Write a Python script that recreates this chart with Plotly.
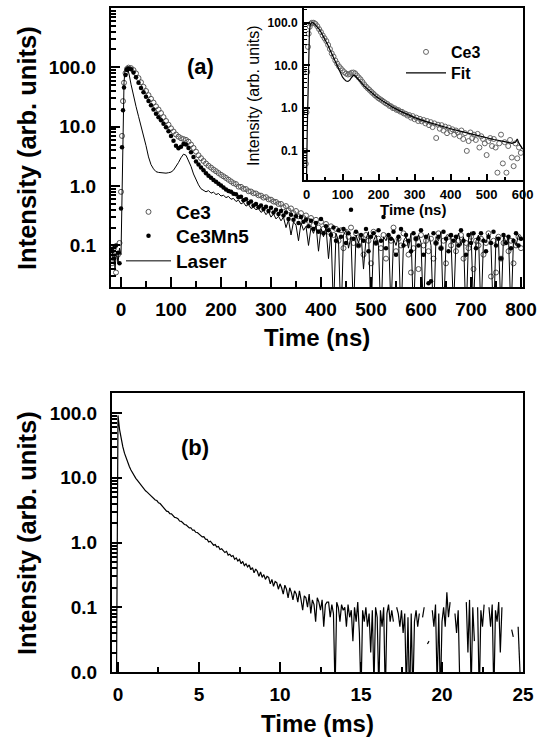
import plotly.graph_objects as go

# ---------------- Panel (a): time-resolved intensity (ns) ----------------
t_grid_a = list(range(20, 805, 5))          # regular 5 ns sampling after the rise

t_ce3_early = [-18, -14, -10, -6, -3, 0, 2, 4, 6, 9, 12, 15]
ce3_early = [0.05, 0.09, 0.035, 0.07, 0.11, 0.8, 7, 27, 55, 80, 94, 99]
ce3_main = [
    97, 90, 79, 66, 56, 47, 40, 34, 29.5, 25.5,
    22, 19.5, 17, 14.5, 12.5, 10.8, 9.4, 8.3, 7.4, 6.8,
    6.4, 6.2, 6.0, 5.6, 5.0, 4.4, 3.8, 3.3, 2.95, 2.65,
    2.4, 2.2, 2.05, 1.9, 1.78, 1.66, 1.55, 1.46, 1.37, 1.28,
    1.2, 1.12, 1.08, 0.98, 0.97, 0.9, 0.89, 0.82, 0.81, 0.76,
    0.75, 0.7, 0.69, 0.64, 0.65, 0.6, 0.59, 0.55, 0.54, 0.5,
    0.5, 0.44, 0.46, 0.39, 0.42, 0.35, 0.38, 0.31, 0.35, 0.29,
    0.32, 0.26, 0.29, 0.22, 0.27, 0.2, 0.25, 0.19, 0.23, 0.17,
    0.21, 0.15, 0.19, 0.12, 0.18, 0.09, 0.17, 0.14, 0.2, 0.11,
    0.16, 0.1, 0.14, 0.07, 0.15, 0.12, 0.05, 0.17, 0.11, 0.13,
    0.09, 0.15, 0.06, 0.14, 0.12, 0.2, 0.08, 0.13, 0.1, 0.16,
    0.11, 0.07, 0.035, 0.09, 0.13, 0.04, 0.15, 0.1, 0.12, 0.08,
    0.13, 0.06, 0.11, 0.16, 0.09, 0.12, 0.05, 0.14, 0.1, 0.13,
    0.08, 0.12, 0.15, 0.06, 0.11, 0.09, 0.14, 0.04, 0.12, 0.1,
    0.13, 0.07, 0.11, 0.16, 0.03, 0.12, 0.035, 0.14, 0.06, 0.11,
    0.13, 0.08, 0.12, 0.05, 0.1, 0.14, 0.09,
]

t_mn5_early = [-18, -14, -10, -6, -3, 0, 2, 4, 6, 9, 12, 15]
mn5_early = [0.08, 0.06, 0.1, 0.075, 0.05, 0.42, 4.5, 19, 46, 74, 90, 96]
mn5_main = [
    93, 82, 68, 55, 45, 38, 32, 27, 23, 19.5,
    16.5, 14.5, 12.8, 11.2, 9.8, 8.4, 7.0, 5.8, 4.8, 4.35,
    4.6, 5.1, 5.0, 4.4, 3.7, 3.1, 2.6, 2.3, 2.05, 1.85,
    1.65, 1.5, 1.38, 1.27, 1.18, 1.1, 1.02, 0.95, 0.88, 0.83,
    0.8, 0.74, 0.73, 0.65, 0.66, 0.58, 0.6, 0.52, 0.55, 0.47,
    0.5, 0.44, 0.47, 0.41, 0.45, 0.38, 0.43, 0.36, 0.4, 0.34,
    0.38, 0.32, 0.36, 0.28, 0.33, 0.27, 0.31, 0.24, 0.3, 0.25,
    0.27, 0.21, 0.26, 0.19, 0.24, 0.17, 0.28, 0.16, 0.21, 0.18,
    0.15, 0.2, 0.12, 0.18, 0.14, 0.19, 0.11, 0.16, 0.4, 0.13,
    0.17, 0.1, 0.15, 0.12, 0.19, 0.08, 0.14, 0.16, 0.11, 0.18,
    0.12, 0.3, 0.09, 0.15, 0.13, 0.17, 0.07, 0.14, 0.19, 0.1,
    0.15, 0.12, 0.08, 0.16, 0.13, 0.1, 0.18, 0.07, 0.14, 0.023,
    0.025, 0.16, 0.11, 0.14, 0.09, 0.17, 0.13, 0.08, 0.15, 0.12,
    0.14, 0.1, 0.18, 0.12, 0.07, 0.15, 0.11, 0.16, 0.09, 0.13,
    0.16, 0.12, 0.08, 0.14, 0.11, 0.17, 0.1, 0.13, 0.06, 0.15,
    0.11, 0.14, 0.09, 0.12, 0.16, 0.1, 0.13,
]

t_laser_early = [-18, -15, -12, -9, -6, -3, 0, 2, 4, 6, 8, 10, 13, 16]
laser_early = [0.06, 0.1, 0.04, 0.08, 0.05, 0.09, 0.07, 1.2, 12, 55, 92, 100, 95, 78]
laser_main = [
    52, 32, 22, 15, 10.5, 7.5, 4.8, 3.1, 2.3, 1.95,
    1.75, 1.7, 1.68, 1.65, 1.65, 1.68, 1.72, 1.85, 2.1, 2.5,
    3.0, 3.45, 3.3, 2.7, 2.15, 1.6, 1.25, 1.05, 0.9, 0.86,
    0.8, 0.84, 0.76, 0.79, 0.72, 0.75, 0.68, 0.7, 0.64, 0.67,
    0.6, 0.62, 0.55, 0.58, 0.5, 0.53, 0.46, 0.49, 0.42, 0.44,
    0.4, 0.42, 0.36, 0.39, 0.33, 0.37, 0.3, 0.34, 0.28, 0.31,
    0.26, 0.3, 0.2, 0.27, 0.15, 0.25, 0.22, 0.12, 0.24, 0.18,
    0.21, 0.1, 0.2, 0.16, 0.22, 0.08, 0.19, 0.14, 0.2, 0.06,
    0.17, 0.008, 0.16, 0.12, 0.005, 0.15, 0.18, 0.09, 0.14, 0.007,
    0.15, 0.11, 0.16, 0.04, 0.13, 0.17, 0.006, 0.12, 0.15, 0.1,
    0.005, 0.14, 0.12, 0.16, 0.008, 0.13, 0.1, 0.15, 0.005, 0.12,
    0.14, 0.09, 0.16, 0.006, 0.12, 0.15, 0.11, 0.007, 0.13, 0.16,
    0.1, 0.005, 0.14, 0.12, 0.17, 0.006, 0.11, 0.15, 0.13, 0.008,
    0.12, 0.16, 0.1, 0.14, 0.005, 0.13, 0.17, 0.009, 0.12, 0.15,
    0.006, 0.13, 0.11, 0.16, 0.1, 0.005, 0.14, 0.12, 0.007, 0.15,
    0.11, 0.14, 0.006, 0.13, 0.1, 0.15, 0.12,
]

# ---------------- Inset: Ce3 with fit (ns) ----------------
t_grid_in = list(range(20, 600, 5))
t_in_early = [-6, -4, -2, 0, 2, 4, 6, 9, 12, 15]
in_early = [0.06, 0.1, 0.05, 0.8, 7, 27, 55, 80, 94, 99]
in_main = [
    99, 93, 82, 70, 60, 50, 43, 37, 30, 24,
    19, 16, 13, 11, 9.5, 8.5, 7.6, 6.9, 6.4, 6.1,
    6.3, 6.7, 6.8, 6.5, 5.8, 5.2, 4.7, 4.1, 3.6, 3.2,
    2.9, 2.65, 2.4, 2.2, 2.0, 1.85, 1.7, 1.6, 1.5, 1.4,
    1.3, 1.24, 1.13, 1.1, 1.0, 0.99, 0.91, 0.9, 0.83, 0.82,
    0.75, 0.74, 0.67, 0.69, 0.6, 0.65, 0.55, 0.6, 0.5, 0.56,
    0.49, 0.53, 0.44, 0.5, 0.4, 0.47, 0.36, 0.44, 0.2, 0.41,
    0.33, 0.4, 0.3, 0.37, 0.26, 0.35, 0.29, 0.32, 0.24, 0.3,
    0.27, 0.22, 0.3, 0.19, 0.26, 0.1, 0.17, 0.27, 0.2, 0.24,
    0.18, 0.25, 0.12, 0.22, 0.19, 0.15, 0.08, 0.17, 0.2, 0.13,
    0.19, 0.12, 0.031, 0.15, 0.24, 0.051, 0.16, 0.031, 0.13, 0.18,
    0.07, 0.044, 0.15, 0.067, 0.12, 0.09,
]
t_fit = [-6, 0, 2, 4, 6, 8, 10, 12, 15, 18,
         22, 26, 30, 35, 40, 45, 50, 55, 60, 65,
         70, 75, 80, 85, 90, 95, 100, 105, 110, 115,
         120, 125, 130, 135, 140, 145, 150, 160, 170, 180,
         190, 200, 220, 240, 260, 280, 300, 330, 360, 400,
         440, 480, 520, 550, 570, 580, 585, 590, 600]
fit = [0.005, 0.02, 0.3, 4, 25, 60, 85, 96, 100, 99,
       93, 86, 79, 70, 60, 51, 43, 36, 29, 23,
       18.5, 14.5, 11.5, 9.2, 7.5, 6.2, 5.3, 4.7, 4.3, 4.2,
       4.5, 5.2, 5.8, 5.7, 5.2, 4.6, 4.1, 3.3, 2.75, 2.3,
       1.97, 1.7, 1.3, 1.04, 0.85, 0.71, 0.6, 0.49, 0.41, 0.33,
       0.27, 0.22, 0.185, 0.165, 0.15, 0.16, 0.19, 0.15, 0.11]

# ---------------- Panel (b): long decay (ms), 0.1 ms sampling from -0.1 ms ----------------
N = None
int_b = [
    0.003,
    92, 55, 39, 30, 24, 20, 17, 15, 13.2, 11.8,
    10.6, 9.8, 9.1, 8.4, 7.9, 7.3, 6.9, 6.3, 6.0, 5.7,
    5.35, 5.0, 4.85, 4.55, 4.45, 4.1, 4.0, 3.75, 3.45, 3.35,
    3.05, 3.0, 2.8, 2.78, 2.65, 2.45, 2.42, 2.33, 2.15, 2.12,
    2.02, 1.9, 1.88, 1.8, 1.68, 1.69, 1.55, 1.56, 1.44, 1.43,
    1.36, 1.32, 1.22, 1.23, 1.13, 1.12, 1.02, 1.05, 0.99, 0.91,
    0.93, 0.85, 0.87, 0.78, 0.8, 0.76, 0.7, 0.73, 0.64, 0.66,
    0.61, 0.63, 0.55, 0.58, 0.52, 0.55, 0.47, 0.51, 0.44, 0.47,
    0.42, 0.45, 0.38, 0.41, 0.34, 0.39, 0.36, 0.3, 0.35, 0.29,
    0.32, 0.27, 0.3, 0.29, 0.23, 0.27, 0.21, 0.25, 0.24, 0.19,
    0.23, 0.2, 0.16, 0.22, 0.19, 0.14, 0.2, 0.17, 0.13, 0.18,
    0.16, 0.12, 0.18, 0.13, 0.09, 0.15, 0.14, 0.1, 0.16, 0.08,
    0.13, 0.11, 0.06, 0.14, 0.12, 0.09, 0.13, 0.05, 0.11, 0.12,
    0.12, 0.07, 0.11, 0.08, 0.005, 0.12, 0.1, 0.06, 0.11, 0.09,
    0.1, 0.05, 0.11, 0.07, 0.09, 0.03, 0.1, 0.06, 0.12, 0.04,
    0.004, 0.09, 0.06, 0.1, 0.05, 0.08, 0.02, 0.09, 0.006, 0.1,
    0.07, 0.005, 0.09, 0.05, 0.1, 0.004, 0.08, 0.11, 0.06, 0.09,
    0.06, N, 0.1, 0.08, 0.05, 0.09, 0.04, 0.08, 0.005, 0.07,
    0.003, 0.08, 0.004, 0.06, 0.09, 0.05, 0.08, N, 0.07, 0.1,
    N, 0.027, 0.03, N, 0.09, 0.05, 0.11, 0.006, 0.08, 0.004,
    0.06, 0.1, 0.05, 0.17, 0.07, 0.12, N, N, 0.08, 0.04,
    0.09, 0.006, N, 0.05, N, 0.12, 0.02, 0.13, 0.005, 0.1,
    0.03, N, 0.1, 0.004, 0.09, 0.05, 0.11, N, N, 0.1,
    0.05, 0.11, 0.004, 0.09, 0.06, 0.12, 0.02, 0.1, N, N,
    N, N, N, 0.045, 0.035, N, N, 0.05, 0.008, 0.003,
]
t_b = [round(-0.1 + 0.1 * i, 1) for i in range(len(int_b))]

assert len(ce3_main) == len(t_grid_a) and len(mn5_main) == len(t_grid_a) and len(laser_main) == len(t_grid_a)
assert len(in_main) == len(t_grid_in) and len(fit) == len(t_fit)
assert len(ce3_early) == len(t_ce3_early) and len(mn5_early) == len(t_mn5_early)
assert len(laser_early) == len(t_laser_early) and len(in_early) == len(t_in_early)

# ---------------- Layout helpers (pixel -> paper) ----------------
W, H = 548, 742
def xd(p0, p1): return [p0 / W, p1 / W]
def yd(p0, p1): return [1 - p1 / H, 1 - p0 / H]
def px(x): return x / W
def py(y): return 1 - y / H

FONT = "Liberation Sans"
BOLD = dict(family=FONT, color="black", weight="bold")
minor_log = [m * 10.0 ** e for e in range(-3, 4) for m in range(2, 10)]

fig = go.Figure()

fig.add_trace(go.Scatter(
    x=t_ce3_early + t_grid_a, y=ce3_early + ce3_main, mode="markers", name="Ce3",
    marker=dict(symbol="circle-open", size=5, color="#555555", line=dict(width=1)),
    xaxis="x", yaxis="y", legend="legend"))
fig.add_trace(go.Scatter(
    x=t_mn5_early + t_grid_a, y=mn5_early + mn5_main, mode="markers", name="Ce3Mn5",
    marker=dict(symbol="circle", size=4.5, color="black"),
    xaxis="x", yaxis="y", legend="legend3"))
fig.add_trace(go.Scatter(
    x=t_laser_early + t_grid_a, y=laser_early + laser_main, mode="lines", name="Laser",
    line=dict(color="black", width=1),
    xaxis="x", yaxis="y", legend="legend4"))

fig.add_trace(go.Scatter(
    x=t_in_early + t_grid_in, y=in_early + in_main, mode="markers", name="Ce3",
    marker=dict(symbol="circle-open", size=5, color="#666666", line=dict(width=1)),
    xaxis="x3", yaxis="y3", legend="legend2"))
fig.add_trace(go.Scatter(
    x=t_fit, y=fit, mode="lines", name="Fit",
    line=dict(color="black", width=1.2),
    xaxis="x3", yaxis="y3", legend="legend5"))

fig.add_trace(go.Scatter(
    x=t_b, y=int_b, mode="lines", showlegend=False,
    line=dict(color="black", width=1.2),
    xaxis="x2", yaxis="y2"))

axis_common = dict(showline=True, linecolor="black", linewidth=2, mirror=True, automargin=False,
                   showgrid=False, zeroline=False, ticks="inside", tickcolor="black")

def leg(xp, yp, size, iw):
    return dict(x=px(xp), y=py(yp), xanchor="left", yanchor="middle",
                bgcolor="rgba(0,0,0,0)", itemwidth=iw, tracegroupgap=0,
                font=dict(**BOLD, size=size))

fig.update_layout(
    width=W, height=H, margin=dict(l=0, r=0, t=0, b=0, autoexpand=False),
    paper_bgcolor="white", plot_bgcolor="rgba(0,0,0,0)",
    font=dict(family=FONT, color="black"),
    xaxis=dict(**axis_common, domain=xd(111, 523), range=[-20, 804], anchor="y",
               tick0=0, dtick=100, ticklen=10, tickwidth=2,
               minor=dict(dtick=50, ticks="inside", ticklen=6, tickwidth=2, tickcolor="black"),
               tickfont=dict(**BOLD, size=19), ticklabelstandoff=4),
    yaxis=dict(**axis_common, domain=yd(8, 287), type="log", range=[-1.7, 3.0], anchor="x",
               tickvals=[0.1, 1, 10, 100], ticktext=["0.1", "1.0", "10.0", "100.0"],
               ticklen=9, tickwidth=2,
               minor=dict(tickvals=minor_log, ticks="inside", ticklen=5, tickwidth=1.5, tickcolor="black"),
               tickfont=dict(**BOLD, size=19), ticklabelstandoff=9),
    xaxis2=dict(**axis_common, domain=xd(112, 523), range=[-0.37, 25.0], anchor="y2",
                tick0=0, dtick=5, ticklen=10, tickwidth=2,
                minor=dict(dtick=2.5, ticks="inside", ticklen=5, tickwidth=2, tickcolor="black"),
                tickfont=dict(**BOLD, size=19), ticklabelstandoff=4),
    yaxis2=dict(**axis_common, domain=yd(393, 672), type="log", range=[-2.0, 2.31], anchor="x2",
                tickvals=[0.01, 0.1, 1, 10, 100], ticktext=["0.0", "0.1", "1.0", "10.0", "100.0"],
                ticklen=10, tickwidth=2,
                minor=dict(tickvals=minor_log, ticks="inside", ticklen=5, tickwidth=1.5, tickcolor="black"),
                tickfont=dict(**BOLD, size=19), ticklabelstandoff=9),
    xaxis3=dict(**axis_common, domain=xd(304, 523), range=[-7, 601], anchor="y3",
                tick0=0, dtick=100, ticklen=6, tickwidth=1.5,
                minor=dict(dtick=50, ticks="inside", ticklen=3, tickwidth=1.5, tickcolor="black"),
                tickfont=dict(**BOLD, size=13), ticklabelstandoff=1),
    yaxis3=dict(**axis_common, domain=yd(8, 180), type="log", range=[-1.68, 2.34], anchor="x3",
                tickvals=[0.1, 1, 10, 100], ticktext=["0.1", "1.0", "10.0", "100.0"],
                ticklen=6, tickwidth=1.5,
                minor=dict(tickvals=minor_log, ticks="inside", ticklen=3, tickwidth=1, tickcolor="black"),
                tickfont=dict(**BOLD, size=12), ticklabelstandoff=2),
    legend=leg(121, 212, 19, 45),
    legend3=leg(121, 236, 19, 45),
    legend4=leg(121, 261, 19, 45),
    legend2=leg(401, 52, 16, 40),
    legend5=leg(401, 73, 16, 40),
    showlegend=True,
)

ann = [
    dict(text="(a)", x=px(200), y=py(67), font=dict(**BOLD, size=22)),
    dict(text="(b)", x=px(195), y=py(447), font=dict(**BOLD, size=22)),
    dict(text="Intensity (arb. units)", x=px(27), y=py(148), textangle=-90, font=dict(**BOLD, size=25.5)),
    dict(text="Intensity (arb. units)", x=px(27), y=py(533), textangle=-90, font=dict(**BOLD, size=25.5)),
    dict(text="Time (ns)", x=px(317), y=py(337), font=dict(**BOLD, size=24)),
    dict(text="Time (ms)", x=px(317), y=py(723), font=dict(**BOLD, size=24)),
    dict(text="Time (ns)", x=px(413), y=py(209), font=dict(**BOLD, size=15)),
    dict(text="Intensity (arb. units)", x=px(253), y=py(96), textangle=-90,
         font=dict(family=FONT, color="black", size=16)),
]
for a in ann:
    a.update(xref="paper", yref="paper", showarrow=False, xanchor="center", yanchor="middle")
fig.update_layout(annotations=ann)

fig.write_html("out.html",
               config={"displayModeBar": False},
               post_script="document.body.style.margin='0px'; document.body.style.overflow='hidden';")
